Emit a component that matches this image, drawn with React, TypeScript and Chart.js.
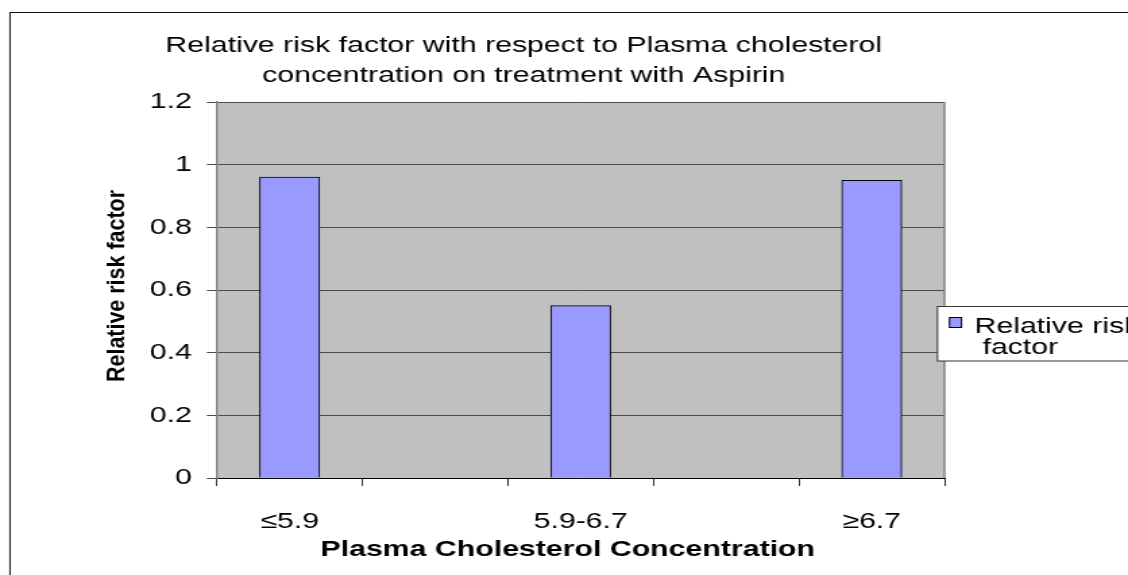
import React, { useEffect, useRef } from 'react';
import { Chart, registerables } from 'chart.js';

Chart.register(...registerables);

// ---- data ----
const categories: string[] = ['≤5.9', '5.9-6.7', '≥6.7'];
const riskValues: number[] = [0.96, 0.55, 0.95];
const seriesName = 'Relative risk factor';
const titleLines: string[] = [
  'Relative risk factor with respect to Plasma cholesterol',
  'concentration on treatment with Aspirin',
];
const xAxisTitle = 'Plasma Cholesterol Concentration';
const yAxisTitle = 'Relative risk factor';
const legendLines: string[] = ['Relative risk', 'factor'];
const yMin = 0;
const yMax = 1.2;
const yStep = 0.2;

// ---- layout (the picture is stretched horizontally) ----
const S = 1.35;
const W = 1128;
const H = 575;
const CW = Math.round(W / S);
const X = (px: number) => px / S;
const FONT = '"Liberation Sans", Arial, Helvetica, sans-serif';
const FS = 30.3 / S; // font size giving the reference text widths

const decor = {
  id: 'decor',
  beforeDraw(chart: any) {
    const { ctx, chartArea: a } = chart;
    ctx.save();
    ctx.fillStyle = '#C0C0C0';
    ctx.fillRect(a.left, a.top, a.right - a.left, a.bottom - a.top);
    ctx.restore();
  },
  afterDatasetsDraw(chart: any) {
    const { ctx, chartArea: a } = chart;
    ctx.save();
    ctx.strokeStyle = '#808080';
    ctx.lineWidth = 1.4;
    ctx.beginPath();
    ctx.moveTo(a.right, a.top);
    ctx.lineTo(a.right, a.bottom);
    ctx.stroke();
    ctx.restore();
  },
  afterDraw(chart: any) {
    const { ctx, chartArea: a } = chart;
    ctx.save();
    // outer frame
    ctx.strokeStyle = '#111';
    ctx.lineWidth = 1;
    ctx.strokeRect(X(10), 12.5, CW + 50, H + 50);

    // title
    ctx.fillStyle = '#000';
    ctx.textAlign = 'center';
    ctx.textBaseline = 'alphabetic';
    ctx.font = `${FS}px ${FONT}`;
    ctx.fillText(titleLines[0], X(524), 52);
    ctx.fillText(titleLines[1], X(524), 82);

    // x axis title
    ctx.font = `bold ${FS}px ${FONT}`;
    ctx.fillText(xAxisTitle, X(568), 556);

    // y axis title (rotated)
    ctx.save();
    ctx.translate(X(117), (a.top + a.bottom) / 2 - 4);
    ctx.rotate(-Math.PI / 2);
    ctx.font = `bold ${17 / S / 0.716}px ${FONT}`;
    const w = ctx.measureText(yAxisTitle).width;
    ctx.scale(192 / w, 1);
    ctx.textBaseline = 'middle';
    ctx.fillText(yAxisTitle, 0, 0);
    ctx.restore();

    // legend
    const lx = X(938);
    const ly = 306.5;
    ctx.fillStyle = '#fff';
    ctx.fillRect(lx, ly, CW, 361 - ly);
    ctx.strokeStyle = '#333';
    ctx.lineWidth = 1;
    ctx.strokeRect(lx, ly, CW, 361 - ly);
    ctx.fillStyle = '#9999FF';
    ctx.fillRect(X(950), 317.5, X(12), 10);
    ctx.strokeStyle = '#000';
    ctx.strokeRect(X(950), 317.5, X(12), 10);
    ctx.fillStyle = '#000';
    ctx.textAlign = 'left';
    ctx.font = `${FS}px ${FONT}`;
    ctx.fillText(legendLines[0], X(975), 333);
    ctx.fillText(legendLines[1], X(983), 354);
    ctx.restore();
  },
};

export default function App() {
  const ref = useRef<HTMLCanvasElement | null>(null);

  useEffect(() => {
    if (!ref.current) return;
    const n = categories.length;
    const xTickValues: number[] = [];
    for (let k = 0; k <= n * 2 - 1; k++) xTickValues.push(-0.25 + k * 0.5);
    for (let i = 0; i < n; i++) xTickValues.push(i);
    xTickValues.sort((p, q) => p - q);

    const chart = new Chart(ref.current, {
      type: 'bar',
      data: {
        datasets: [
          {
            label: seriesName,
            data: categories.map((_, i) => ({ x: i, y: riskValues[i] })),
            backgroundColor: '#9999FF',
            borderColor: '#000',
            borderWidth: 1,
            barThickness: X(60),
          },
        ],
      },
      options: {
        responsive: false,
        maintainAspectRatio: false,
        devicePixelRatio: 1,
        animation: false,
        layout: { padding: { left: 0, top: 102, right: CW - X(945), bottom: 0 } },
        plugins: {
          legend: { display: false },
          title: { display: false },
          tooltip: { enabled: false },
        },
        scales: {
          x: {
            type: 'linear',
            offset: false,
            min: -0.25,
            max: n - 0.75,
            afterBuildTicks: (scale: any) => {
              scale.ticks = xTickValues.map((v) => ({ value: v }));
            },
            afterFit: (scale: any) => {
              scale.height = H - 478;
            },
            ticks: {
              autoSkip: false,
              maxRotation: 0,
              minRotation: 0,
              padding: 22,
              color: '#000',
              font: { family: FONT, size: FS },
              callback: (v: any) => (Number.isInteger(v) ? categories[v] : ''),
            },
            grid: {
              offset: false,
              drawOnChartArea: false,
              drawTicks: true,
              tickLength: 8,
              tickWidth: 1,
              tickColor: (c: any) =>
                c.tick && Number.isInteger(c.tick.value) ? 'rgba(0,0,0,0)' : '#333',
            },
            border: { color: '#000', width: 1 },
          },
          y: {
            min: yMin,
            max: yMax,
            afterFit: (scale: any) => {
              scale.width = X(217);
            },
            ticks: {
              stepSize: yStep,
              padding: X(15),
              color: '#000',
              font: { family: FONT, size: FS },
              callback: (v: any) => String(Number(Number(v).toFixed(1))),
            },
            grid: {
              color: '#4a4a4a',
              lineWidth: 1,
              drawTicks: true,
              tickLength: X(10),
              tickColor: '#4a4a4a',
            },
            border: { color: '#808080', width: 1.4 },
          },
        },
      },
      plugins: [decor],
    });
    return () => chart.destroy();
  }, []);

  return (
    <div style={{ position: 'fixed', left: 0, top: 0, width: W, height: H, background: '#fff' }}>
      <canvas
        ref={ref}
        width={CW}
        height={H}
        style={{ display: 'block', width: `${W}px`, height: `${H}px` }}
      />
    </div>
  );
}
